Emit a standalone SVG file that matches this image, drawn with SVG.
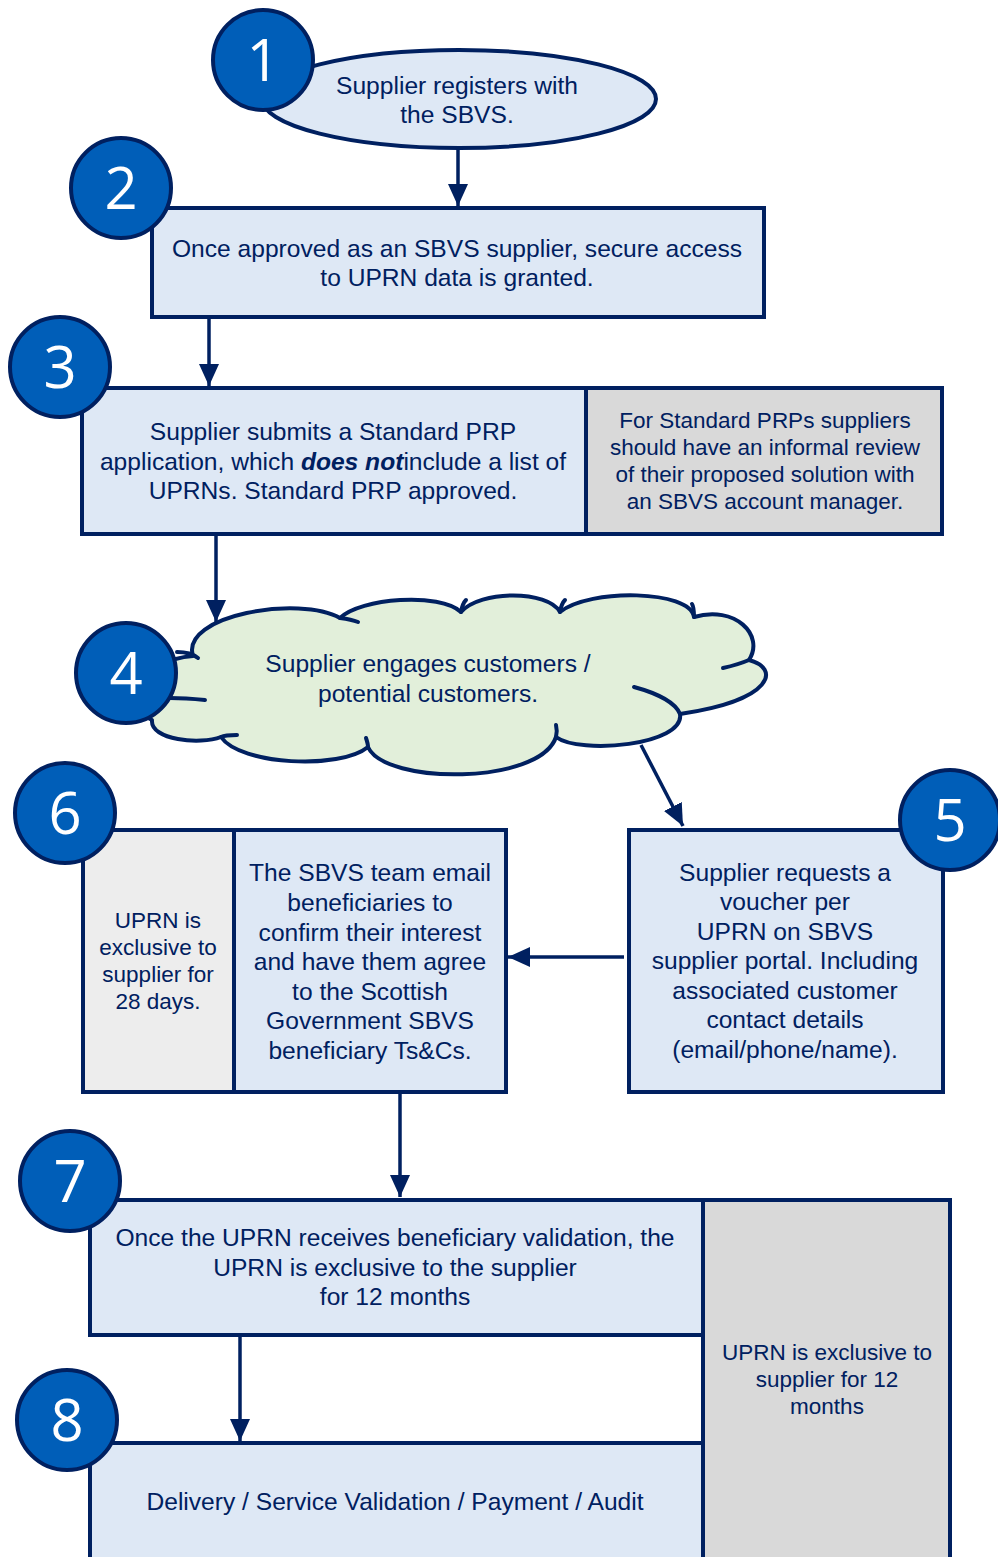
<svg xmlns="http://www.w3.org/2000/svg" width="998" height="1557" viewBox="0 0 998 1557">
<style>
.box{fill:#DEE8F5;stroke:#002060;stroke-width:4}
.grey{fill:#D9D9D9;stroke:#002060;stroke-width:4}
.lgrey{fill:#EDEDED;stroke:#002060;stroke-width:4}
.num{fill:#005EB8;stroke:#002060;stroke-width:4}
.numt{font-family:"Open Sans","Liberation Sans",sans-serif;font-size:58px;fill:#FFFFFF;text-anchor:middle}
.t{font-family:"Liberation Sans",Arial,sans-serif;font-size:24.6px;fill:#002060;text-anchor:middle}
.s{font-family:"Liberation Sans",Arial,sans-serif;font-size:22.5px;fill:#002060;text-anchor:middle}
.conn{stroke:#002060;stroke-width:3.5;fill:none}
.cl{fill:none;stroke:#002060;stroke-width:4;stroke-linecap:round}
</style>
<defs>
<marker id="ah" viewBox="0 0 22 20" refX="22" refY="10" markerWidth="22" markerHeight="20" markerUnits="userSpaceOnUse" orient="auto">
<path d="M0,0 L22,10 L0,20 z" fill="#002060"/>
</marker>
</defs>

<g id="connectors">
<line class="conn" x1="458" y1="150" x2="458" y2="206" marker-end="url(#ah)"/>
<line class="conn" x1="209" y1="318" x2="209" y2="386" marker-end="url(#ah)"/>
<line class="conn" x1="216" y1="536" x2="216" y2="622" marker-end="url(#ah)"/>
<line class="conn" x1="641" y1="745" x2="683" y2="826" marker-end="url(#ah)"/>
<line class="conn" x1="624" y1="957" x2="508" y2="957" marker-end="url(#ah)"/>
<line class="conn" x1="400" y1="1093" x2="400" y2="1197" marker-end="url(#ah)"/>
<line class="conn" x1="240" y1="1335" x2="240" y2="1441" marker-end="url(#ah)"/>
</g>

<g id="node1">
<ellipse cx="459" cy="99" rx="197" ry="49" class="box"/>
<text class="t" x="457" y="94">Supplier registers with</text>
<text class="t" x="457" y="123">the SBVS.</text>
<circle cx="263" cy="60" r="50" class="num"/>
<text class="numt" x="263" y="81">1</text>
</g>

<g id="node2">
<rect x="152" y="208" width="612" height="109" class="box"/>
<text class="t" x="457" y="257">Once approved as an SBVS supplier, secure access</text>
<text class="t" x="457" y="286">to UPRN data is granted.</text>
<circle cx="121" cy="188" r="50" class="num"/>
<text class="numt" x="121" y="209">2</text>
</g>

<g id="node3">
<rect x="82" y="388" width="504" height="146" class="box"/>
<rect x="586" y="388" width="356" height="146" class="grey"/>
<text class="t" x="333" y="440">Supplier submits a Standard PRP</text>
<text class="t" x="333" y="470">application, which <tspan font-weight="bold" font-style="italic">does not</tspan>include a list of</text>
<text class="t" x="333" y="499">UPRNs. Standard PRP approved.</text>
<text class="s" x="765" y="428">For Standard PRPs suppliers</text>
<text class="s" x="765" y="455">should have an informal review</text>
<text class="s" x="765" y="482">of their proposed solution with</text>
<text class="s" x="765" y="509">an SBVS account manager.</text>
<circle cx="60" cy="367" r="50" class="num"/>
<text class="numt" x="60" y="388">3</text>
</g>

<g id="node4">
<path fill="#E2EFDA" stroke="#002060" stroke-width="4" stroke-linejoin="round" d="M193,656 C180,615 300,595 340,618 C360,598 440,592 461,612 C480,590 548,590 560,612 C590,588 690,590 694,617 C735,605 765,635 749,660 C780,668 775,700 680,714 C685,745 580,755 556,737 C540,785 385,785 368,747 C340,770 240,765 221,737 C200,745 150,740 152,720 C120,705 140,660 193,656 Z"/>
<path class="cl" d="M340,618 C348,619 353,620 358,622"/>
<path class="cl" d="M461,612 C462,606 464,602 466,600"/>
<path class="cl" d="M560,612 C561,606 563,602 565,600"/>
<path class="cl" d="M694,617 C694,611 694,607 692,604"/>
<path class="cl" d="M749,660 C742,663 732,666 723,668"/>
<path class="cl" d="M634,687 C660,694 676,704 680,714"/>
<path class="cl" d="M556,737 C557,733 557,729 556,725"/>
<path class="cl" d="M368,747 C368,744 367,741 366,738"/>
<path class="cl" d="M221,737 C225,735 232,735 237,735"/>
<path class="cl" d="M177,652 C186,652 193,654 198,658"/>
<path class="cl" d="M170,698 C182,698 195,699 205,700"/>
<text class="t" x="428" y="672">Supplier engages customers /</text>
<text class="t" x="428" y="702">potential customers.</text>
<circle cx="126" cy="673" r="50" class="num"/>
<text class="numt" x="126" y="694">4</text>
</g>

<g id="node5">
<rect x="629" y="830" width="314" height="262" class="box"/>
<text class="t" x="785" y="881">Supplier requests a</text>
<text class="t" x="785" y="910">voucher per</text>
<text class="t" x="785" y="940">UPRN on SBVS</text>
<text class="t" x="785" y="969">supplier portal. Including</text>
<text class="t" x="785" y="999">associated customer</text>
<text class="t" x="785" y="1028">contact details</text>
<text class="t" x="785" y="1058">(email/phone/name).</text>
<circle cx="950" cy="820" r="50" class="num"/>
<text class="numt" x="950" y="841">5</text>
</g>

<g id="node6">
<rect x="83" y="830" width="151" height="262" class="lgrey"/>
<rect x="234" y="830" width="272" height="262" class="box"/>
<text class="s" x="158" y="928">UPRN is</text>
<text class="s" x="158" y="955">exclusive to</text>
<text class="s" x="158" y="982">supplier for</text>
<text class="s" x="158" y="1009">28 days.</text>
<text class="t" x="370" y="881">The SBVS team email</text>
<text class="t" x="370" y="911">beneficiaries to</text>
<text class="t" x="370" y="941">confirm their interest</text>
<text class="t" x="370" y="970">and have them agree</text>
<text class="t" x="370" y="1000">to the Scottish</text>
<text class="t" x="370" y="1029">Government SBVS</text>
<text class="t" x="370" y="1059">beneficiary Ts&amp;Cs.</text>
<circle cx="65" cy="813" r="50" class="num"/>
<text class="numt" x="65" y="834">6</text>
</g>

<g id="node7">
<rect x="90" y="1200" width="613" height="135" class="box"/>
<text class="t" x="395" y="1246">Once the UPRN receives beneficiary validation, the</text>
<text class="t" x="395" y="1276">UPRN is exclusive to the supplier</text>
<text class="t" x="395" y="1305">for 12 months</text>
<circle cx="70" cy="1181" r="50" class="num"/>
<text class="numt" x="70" y="1202">7</text>
</g>

<g id="note7">
<rect x="703" y="1200" width="247" height="380" class="grey"/>
<text class="s" x="827" y="1360">UPRN is exclusive to</text>
<text class="s" x="827" y="1387">supplier for 12</text>
<text class="s" x="827" y="1414">months</text>
</g>

<g id="node8">
<rect x="90" y="1443" width="613" height="140" class="box"/>
<text class="t" x="395" y="1510">Delivery / Service Validation / Payment / Audit</text>
<circle cx="67" cy="1420" r="50" class="num"/>
<text class="numt" x="67" y="1441">8</text>
</g>
</svg>
